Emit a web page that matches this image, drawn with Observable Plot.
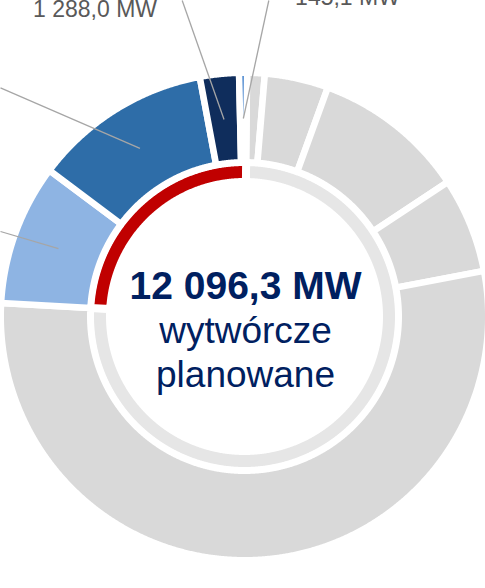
<!DOCTYPE html>
<html>
<head>
<meta charset="utf-8">
<script src="https://cdn.jsdelivr.net/npm/d3@7"></script>
<script src="https://cdn.jsdelivr.net/npm/@observablehq/plot@0.6"></script>
<style>
  html, body { margin: 0; padding: 0; background: #fff; }
  #chart svg { display: block; }
</style>
</head>
<body>
<div id="chart"></div>
<script>
// ---- data ----
const segments = ["Segment 1", "Segment 2", "Segment 3", "Segment 4", "Segment 5",
                  "Jasnoniebieski", "Niebieski", "Granatowy", "Błękitny"];
const segmentValues = [581, 2104, 5052, 3142, 26850, 4655.7, 5892.6, 1288.0, 260];
const innerCategories = ["pozostałe", "wytwórcze planowane"];
const plannedValue = 12096.3;
const centerValue = "12 096,3 MW";
const centerLines = ["wytwórcze", "planowane"];
const labelTexts = ["1 288,0 MW", "145,1 MW"];
const leaderSegments = ["Granatowy", "Błękitny", "Niebieski", "Jasnoniebieski"];

// ---- styles ----
const segmentColors = ["#d9d9d9", "#d9d9d9", "#d9d9d9", "#d9d9d9", "#d9d9d9",
                       "#8eb4e3", "#2e6da8", "#0f2d5c", "#2f75c8"];
const innerColors = ["#e6e6e6", "#c00000"];
const navy = "#002060";
const font = "'Liberation Sans', Arial, Helvetica, sans-serif";

// ---- layout ----
const W = 485, H = 588, cx = 244, cy = 316;
const start = 0.6 * Math.PI / 180;
const outerR0 = 154.25, outerR1 = 243.75, outerGap = 6.5;
const innerR0 = 134.5, innerR1 = 154.5, innerGap = 8;

function sector(key, a0, a1, r0, r1) {
  const pts = [];
  const n = Math.max(2, Math.ceil((a1 - a0) / (Math.PI / 720)));
  for (let i = 0; i <= n; i++) {
    const a = a0 + (a1 - a0) * i / n;
    pts.push({key, x: r1 * Math.sin(a), y: r1 * Math.cos(a)});
  }
  for (let i = n; i >= 0; i--) {
    const a = a0 + (a1 - a0) * i / n;
    pts.push({key, x: r0 * Math.sin(a), y: r0 * Math.cos(a)});
  }
  return pts;
}

const pie = d3.pie().sort(null).value(d => d.value)
  .startAngle(start).endAngle(start + 2 * Math.PI);

const outerData = segments.map((k, i) => ({key: k, value: segmentValues[i]}));
const greySum = d3.sum(segmentValues.slice(0, 5));
const innerData = innerCategories.map((k, i) => ({key: k, value: i === 0 ? greySum : plannedValue}));

const outerArcs = pie(outerData);
const innerArcs = pie(innerData);

const outerPts = outerArcs.flatMap(a => sector(a.data.key, a.startAngle, a.endAngle, outerR0, outerR1));
const innerPts = innerArcs.flatMap(a => sector(a.data.key, a.startAngle, a.endAngle, innerR0, innerR1));

// leader lines: from segment mid-angle to label positions (off the crop)
const leaderEnds = {
  "Granatowy": [181.7 - cx, cy - 0],
  "Błękitny": [268.3 - cx, cy - 0],
  "Niebieski": [0 - cx, cy - 87.3],
  "Jasnoniebieski": [0 - cx, cy - 231]
};
const leaderR = 198;
const leaders = leaderSegments.map(k => {
  const a = outerArcs.find(d => d.data.key === k);
  const m = (a.startAngle + a.endAngle) / 2;
  return {key: k, x1: leaderR * Math.sin(m), y1: leaderR * Math.cos(m),
          x2: leaderEnds[k][0], y2: leaderEnds[k][1]};
});

const labels = [
  {text: labelTexts[0], x: 94.5 - cx, y: cy - 16.7},
  {text: labelTexts[1], x: 347 - cx, y: cy - 4.5}
];

const centerText = [
  {text: centerValue, x: 245 - cx, y: cy - 298, size: 39, weight: "bold"},
  {text: centerLines[0], x: 245 - cx, y: cy - 342.3, size: 37, weight: "normal"},
  {text: centerLines[1], x: 245 - cx, y: cy - 386.7, size: 37, weight: "normal"}
];

const chart = Plot.plot({
  width: W,
  height: H,
  margin: 0,
  style: {background: "#fff", fontFamily: font},
  x: {domain: [-cx, W - cx], axis: null},
  y: {domain: [cy - H, cy], axis: null},
  color: {type: "ordinal", domain: [...innerCategories, ...segments],
          range: [...innerColors, ...segmentColors]},
  marks: [
    Plot.line(innerPts, {x: "x", y: "y", z: "key", fill: "key", stroke: "#fff",
                         strokeWidth: innerGap, curve: "linear-closed"}),
    Plot.line(outerPts, {x: "x", y: "y", z: "key", fill: "key", stroke: "#fff",
                         strokeWidth: outerGap, curve: "linear-closed"}),
    Plot.link(leaders, {x1: "x1", y1: "y1", x2: "x2", y2: "y2",
                        stroke: "#a6a6a6", strokeWidth: 1.3}),
    Plot.text(labels, {x: "x", y: "y", text: "text", fill: "#595959", fontSize: 23,
                       lineAnchor: "bottom", textAnchor: "middle", fontFamily: font}),
    Plot.text(centerText.slice(0, 1), {x: "x", y: "y", text: "text", fill: navy, fontSize: 39,
                       fontWeight: "bold", lineAnchor: "bottom", textAnchor: "middle", fontFamily: font}),
    Plot.text(centerText.slice(1), {x: "x", y: "y", text: "text", fill: navy, fontSize: 37,
                       lineAnchor: "bottom", textAnchor: "middle", fontFamily: font})
  ]
});

document.getElementById("chart").appendChild(chart);
</script>
</body>
</html>
